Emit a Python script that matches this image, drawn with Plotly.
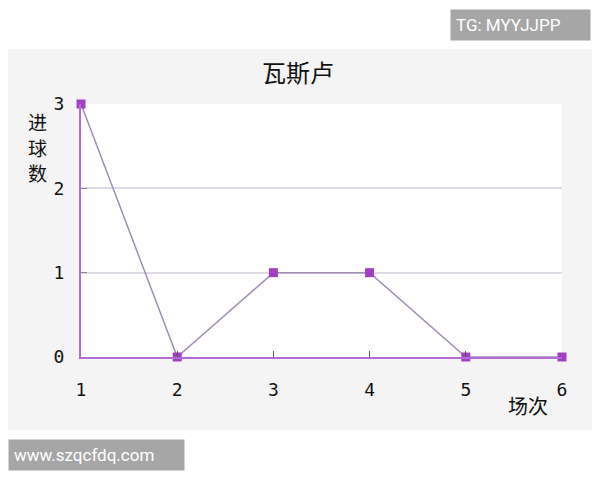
"""Goals per match line chart (瓦斯卢)."""

import plotly.graph_objects as go

# data
MATCHES = [1, 2, 3, 4, 5, 6]
GOALS = [3, 0, 1, 1, 0, 0]
X_TICKS = [1, 2, 3, 4, 5, 6]
Y_TICKS = [0, 1, 2, 3]

TITLE = "瓦斯卢"
Y_LABEL_CHARS = ["进", "球", "数"]
X_LABEL = "场次"

PANEL_GRAY = "#f4f4f4"
AXIS_PURPLE = "#b36bd6"
LINE_COLOR = "#a08cb4"
MARKER_COLOR = "#a040c0"
TICK_FONT = dict(family="DejaVu Sans Mono", size=18, color="#111111")

fig = go.Figure()

fig.add_trace(
    go.Scatter(
        x=MATCHES,
        y=GOALS,
        mode="lines+markers",
        line=dict(color=LINE_COLOR, width=1.5),
        marker=dict(symbol="square", size=9, color=MARKER_COLOR),
        cliponaxis=False,
        showlegend=False,
        hoverinfo="x+y",
    )
)

# white bands above and below the gray panel
fig.add_shape(type="rect", xref="paper", yref="paper", x0=-0.2, x1=1.2,
              y0=1.217, y1=1.6, fillcolor="white", line_width=0, layer="above")
fig.add_shape(type="rect", xref="paper", yref="paper", x0=-0.2, x1=1.2,
              y0=-0.289, y1=-0.6, fillcolor="white", line_width=0, layer="above")

annotations = [
    dict(text=TITLE, x=0.451, y=1.13, font=dict(size=24, color="#111111")),
    dict(text=X_LABEL, x=0.93, y=-0.19, font=dict(size=20, color="#111111")),
]
# y-axis title written one character per line, like the original
for i, ch in enumerate(Y_LABEL_CHARS):
    annotations.append(dict(text=ch, x=-0.09, y=0.929 - 0.099 * i,
                            font=dict(size=19, color="#111111")))
for a in annotations:
    a.update(xref="paper", yref="paper", showarrow=False,
             xanchor="center", yanchor="middle",
             font=dict(family="Noto Sans CJK SC", **a["font"]))

# watermark boxes
annotations.append(dict(
    text="TG: MYYJJPP", xref="paper", yref="paper", x=0.913, y=1.312,
    xanchor="center", yanchor="middle", showarrow=False, align="left",
    font=dict(family="Roboto", size=17, color="white"),
    bgcolor="#a6a6a6", borderpad=5, width=129,
))
annotations.append(dict(
    text="www.szqcfdq.com", xref="paper", yref="paper", x=0.033, y=-0.387,
    xanchor="center", yanchor="middle", showarrow=False, align="left",
    font=dict(family="Roboto", size=17, color="white"),
    bgcolor="#a6a6a6", borderpad=5, width=165,
))

# the page body adds an 8px margin, so the figure is 8px smaller each way
fig.update_layout(
    width=592,
    height=472,
    autosize=False,
    margin=dict(l=73, r=38, t=96, b=123),
    paper_bgcolor=PANEL_GRAY,
    plot_bgcolor="white",
    annotations=annotations,
    xaxis=dict(
        range=[1, 6],
        tickvals=X_TICKS,
        ticks="inside",
        ticklen=6,
        tickcolor="#555555",
        tickfont=TICK_FONT,
        ticklabelstandoff=15,
        showgrid=False,
        zeroline=False,
        showline=True,
        linecolor=AXIS_PURPLE,
        linewidth=2,
    ),
    yaxis=dict(
        range=[0, 3],
        tickvals=Y_TICKS,
        ticks="inside",
        ticklen=6,
        tickcolor="#888888",
        tickfont=TICK_FONT,
        ticklabelstandoff=11,
        showgrid=True,
        gridcolor="#dedbe6",
        gridwidth=1.5,
        zeroline=False,
        showline=True,
        linecolor=AXIS_PURPLE,
        linewidth=2,
    ),
)

fig.write_html("out.html")
